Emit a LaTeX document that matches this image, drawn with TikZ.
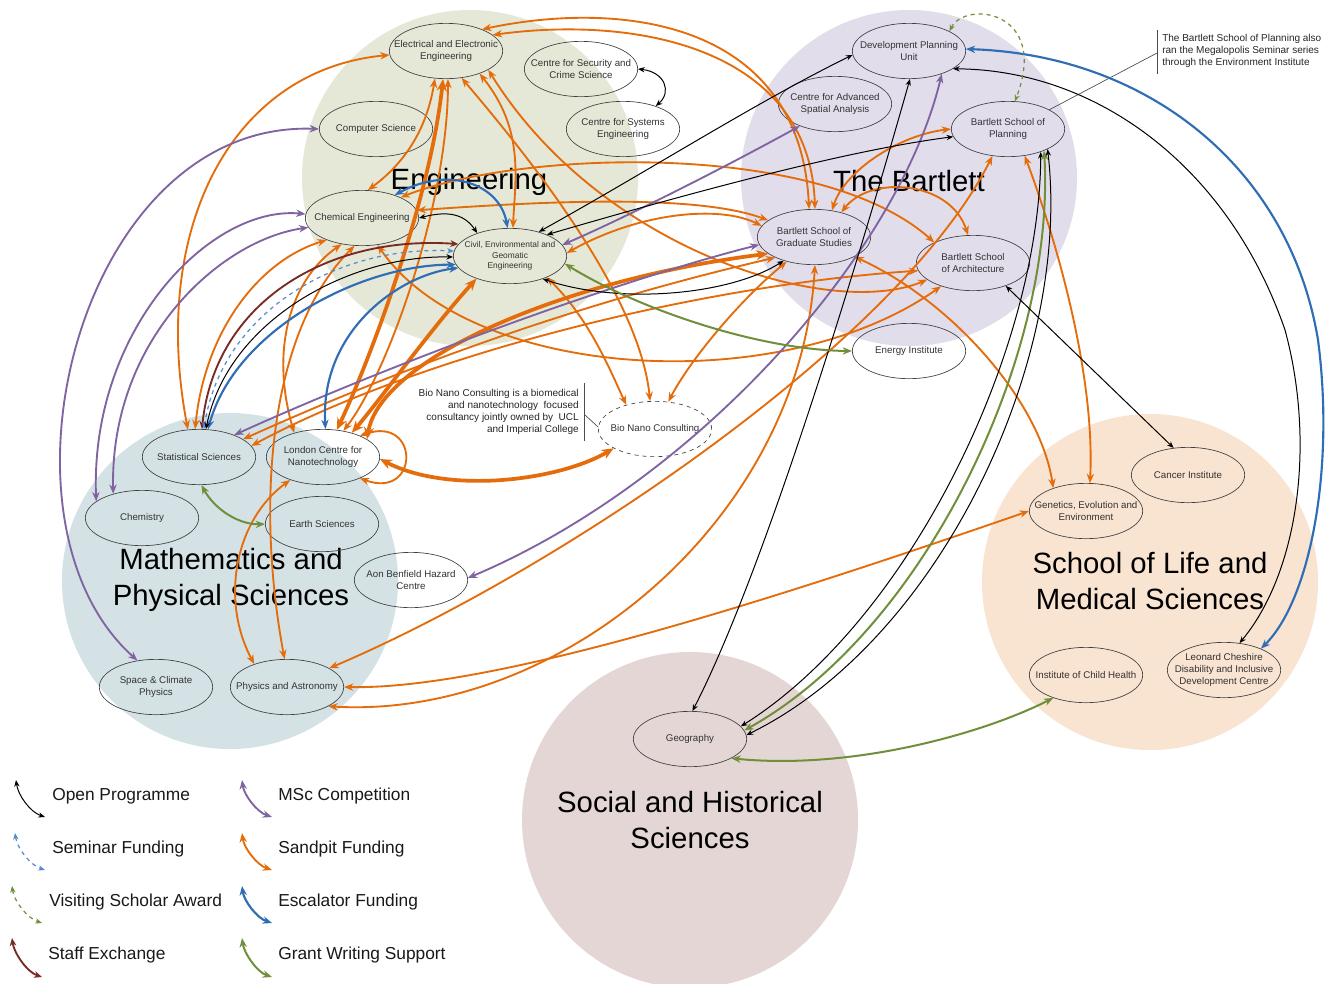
\documentclass[tikz,border=0pt]{standalone}
\usepackage{fontspec}
\setmainfont{Liberation Sans}
\usetikzlibrary{shapes.geometric,arrows.meta,calc}
\definecolor{engc}{HTML}{E5E8D7}
\definecolor{bartc}{HTML}{E2DDEB}
\definecolor{mpsc}{HTML}{D4E2E6}
\definecolor{lifec}{HTML}{F9E3D1}
\definecolor{socc}{HTML}{E5D6D6}
\definecolor{sandc}{HTML}{E46C0A}
\definecolor{mscc}{HTML}{8064A2}
\definecolor{escc}{HTML}{2F6DB5}
\definecolor{semc}{HTML}{4F8BD0}
\definecolor{grantc}{HTML}{6F8F3A}
\definecolor{staffc}{HTML}{7A2A24}
\definecolor{visitc}{HTML}{6F8F3A}
\tikzset{
 grp/.style={circle,inner sep=0pt,minimum size=252pt,draw=none},
 biglabel/.style={font=\fontsize{22}{27}\selectfont,align=center,text=black},
 unit/.style={ellipse,draw=black!75,line width=0.5pt,minimum width=85pt,minimum height=41.5pt,inner sep=0pt},
 utext/.style={inner sep=0pt,align=center,font=\fontsize{7.3}{9}\selectfont,text=black!80},
 usmall/.style={inner sep=0pt,align=center,font=\fontsize{6.3}{8}\selectfont,text=black!80},
 sand/.style={draw=sandc,line width=1.4pt,arrows={Stealth[length=7pt,width=5.5pt]-Stealth[length=7pt,width=5.5pt]}},
 sandthick/.style={draw=sandc,line width=2.8pt,arrows={Stealth[length=9pt,width=7.5pt]-Stealth[length=9pt,width=7.5pt]}},
 openp/.style={draw=black,line width=0.75pt,arrows={Stealth[length=5pt,width=4pt]-Stealth[length=5pt,width=4pt]}},
 msc/.style={draw=mscc,line width=1.4pt,arrows={Stealth[length=7pt,width=5.5pt]-Stealth[length=7pt,width=5.5pt]}},
 esc/.style={draw=escc,line width=1.6pt,arrows={Stealth[length=7pt,width=5.5pt]-Stealth[length=7pt,width=5.5pt]}},
 grant/.style={draw=grantc,line width=1.5pt,arrows={Stealth[length=7pt,width=5.5pt]-Stealth[length=7pt,width=5.5pt]}},
 staff/.style={draw=staffc,line width=1.4pt,arrows={Stealth[length=6pt,width=5pt]-Stealth[length=6pt,width=5pt]}},
 seminar/.style={draw=semc,line width=0.9pt,dashed,arrows={Stealth[length=5pt,width=4pt]-Stealth[length=5pt,width=4pt]}},
 visit/.style={draw=visitc,line width=0.9pt,dashed,arrows={Stealth[length=5pt,width=4pt]-Stealth[length=5pt,width=4pt]}},
 annot/.style={font=\fontsize{7.5}{9}\selectfont,text=black!85,inner sep=0pt},
 legtext/.style={font=\fontsize{13}{15}\selectfont,anchor=west,text=black!90,inner sep=0pt},
 bar/.style={draw=black!70,line width=0.5pt}
}
\begin{document}
\begin{tikzpicture}[x=0.75pt,y=-0.75pt]
\useasboundingbox (0,0) rectangle (1330,983);
\clip (0,0) rectangle (1330,983);
\fill[white] (0,0) rectangle (1330,983);
% group circles
\node[grp,fill=engc] (gEng) at (470,178) {};
\node[grp,fill=bartc] (gBart) at (909,178) {};
\node[grp,fill=mpsc] (gMps) at (230,581) {};
\node[grp,fill=lifec] (gLife) at (1150,582) {};
\node[grp,fill=socc] (gSoc) at (690,820) {};
% big labels
\node[biglabel] (lEng) at (469,182) {Engineering};
\node[biglabel] (lBart) at (909,181) {The Bartlett};
\node[biglabel] (lMps) at (231,580) {Mathematics and\\Physical Sciences};
\node[biglabel] (lLife) at (1150,581) {School of Life and\\Medical Sciences};
\node[biglabel] (lSoc) at (690,820) {Social and Historical\\Sciences};
% units
\node[unit,label={[utext]center:{Electrical and Electronic\\Engineering}}] (eee) at (446,51) {};
\node[unit,label={[utext]center:{Centre for Security and\\Crime Science}}] (csc) at (581,69) {};
\node[unit,label={[utext]center:{Centre for Systems\\Engineering}}] (cse) at (623,129) {};
\node[unit,label={[utext]center:{Computer Science}}] (cs) at (376,129) {};
\node[unit,label={[utext]center:{Chemical Engineering}}] (che) at (362,218) {};
\node[unit,label={[usmall]center:{Civil, Environmental and\\Geomatic\\Engineering}}] (civ) at (510,256) {};
\node[unit,label={[utext]center:{Development Planning\\Unit}}] (dpu) at (909,51) {};
\node[unit,label={[utext]center:{Centre for Advanced\\Spatial Analysis}}] (casa) at (835,104) {};
\node[unit,label={[utext]center:{Bartlett School of\\Planning}}] (bsp) at (1008,129) {};
\node[unit,label={[utext]center:{Bartlett School of\\Graduate Studies}}] (bsgs) at (814,237) {};
\node[unit,label={[utext]center:{Bartlett School\\of Architecture}}] (bsa) at (973,263) {};
\node[unit,label={[utext]center:{Energy Institute}}] (ei) at (909,351) {};
\node[unit,dashed,label={[utext]center:{Bio Nano Consulting}}] (bnc) at (655,429) {};
\node[unit,label={[utext]center:{Statistical Sciences}}] (stat) at (199,457) {};
\node[unit,label={[utext]center:{London Centre for\\Nanotechnology}}] (lcn) at (323,457) {};
\node[unit,label={[utext]center:{Chemistry}}] (chem) at (142,518) {};
\node[unit,label={[utext]center:{Earth Sciences}}] (earth) at (322,524) {};
\node[unit,label={[utext]center:{Aon Benfield Hazard\\Centre}}] (aon) at (411,580) {};
\node[unit,label={[utext]center:{Space \& Climate\\Physics}}] (scp) at (156,687) {};
\node[unit,label={[utext]center:{Physics and Astronomy}}] (pa) at (287,687) {};
\node[unit,label={[utext]center:{Cancer Institute}}] (ci) at (1188,475) {};
\node[unit,label={[utext]center:{Genetics, Evolution and\\Environment}}] (gee) at (1086,511) {};
\node[unit,label={[utext]center:{Institute of Child Health}}] (ich) at (1086,675) {};
\node[unit,label={[utext]center:{Leonard Cheshire\\Disability and Inclusive\\Development Centre}}] (lc) at (1224,670) {};
\node[unit,label={[utext]center:{Geography}}] (geo) at (690,739) {};
% annotations
\node[annot,anchor=east,align=right] (bncnote) at (579,412) {Bio Nano Consulting is a biomedical\\and nanotechnology\ \ focused\\consultancy jointly owned by\ \ UCL\\and Imperial College};
\draw[bar] (584,383) -- (584,441);
\coordinate (bncbar) at (585,415);
\draw[bar] (bncbar) -- (bnc.178);
\node[annot,anchor=west,align=left] (bspnote) at (1162,51) {The Bartlett School of Planning also\\ran the Megalopolis Seminar series\\through the Environment Institute};
\draw[bar] (1157,30) -- (1157,74);
\coordinate (bspbar) at (1157,53);
\draw[bar] (bsp.25) -- (bspbar);
% ---------- Sandpit Funding ----------
\draw[sand] (eee.31) .. controls (620,0) and (800,20) .. (bsgs.100);
\draw[sand] (eee.19) .. controls (640,15) and (810,50) .. (bsgs.88);
\draw[sand] (eee.184) .. controls (230,70) and (150,230) .. (stat.112);
\draw[sandthick] (eee.264) .. controls (430,200) and (370,360) .. (lcn.63);
\draw[sand] (eee.274) .. controls (448,200) and (390,370) .. (lcn.52);
\draw[sand] (eee.326) .. controls (525,130) and (515,180) .. (civ.84);
\draw[sand] (eee.300) .. controls (540,170) and (640,300) .. (bnc.100);
\draw[sand] (eee.336) .. controls (600,250) and (830,320) .. (bsa.200);
\draw[sand] (eee.248) .. controls (425,140) and (395,170) .. (che.78);
\draw[sand] (che.28) .. controls (520,150) and (820,140) .. (bsa.152);
\draw[sand] (che.8) .. controls (560,200) and (700,195) .. (bsgs.160);
\draw[sand] (che.300) .. controls (470,380) and (780,400) .. (bsa.216);
\draw[sand] (stat.98) .. controls (205,330) and (260,260) .. (che.212);
\draw[sand] (lcn.140) .. controls (270,350) and (290,280) .. (che.232);
\draw[sand] (pa.95) .. controls (255,500) and (270,330) .. (che.255);
\draw[sand] (pa.145) .. controls (220,600) and (235,520) .. (lcn.215);
\draw[sandthick] (civ.214) .. controls (430,330) and (380,400) .. (lcn.40);
\draw[sandthick] (bsgs.200) .. controls (560,280) and (380,360) .. (lcn.22);
\draw[sand] (bsgs.208) .. controls (592,300) and (419,360) .. (stat.22);
\draw[sand] (bsa.188) .. controls (700,285) and (420,355) .. (stat.12);
\draw[sand] (civ.3) .. controls (640,212) and (720,205) .. (bsgs.168);
\draw[sand] (civ.330) .. controls (590,320) and (610,370) .. (bnc.140);
\draw[sand] (bsgs.222) .. controls (740,300) and (690,360) .. (bnc.64);
\draw[sand] (bsgs.334) .. controls (950,300) and (1040,400) .. (gee.145);
\draw[sand] (bsp.302) .. controls (1060,250) and (1095,380) .. (gee.82);
\draw[sand] (bsp.180) .. controls (900,135) and (845,170) .. (bsgs.56);
\draw[sand] (bsgs.42) .. controls (870,175) and (950,180) .. (bsa.100);
\draw[sand] (bsp.240) .. controls (900,340) and (560,570) .. (pa.24);
\draw[sand] (bsgs.272) .. controls (800,520) and (560,720) .. (pa.335);
\draw[sand] (gee.180) .. controls (800,590) and (500,690) .. (pa.0);
\draw[sand] (lcn.30) .. controls (420,415) and (420,500) .. (lcn.330);
\draw[sandthick] (lcn.358) .. controls (450,495) and (560,480) .. (bnc.205);
% ---------- MSc Competition ----------
\draw[msc] (cs.180) .. controls (80,120) and (-20,520) .. (scp.125);
\draw[msc] (che.176) .. controls (210,205) and (90,330) .. (chem.160);
\draw[msc] (che.190) .. controls (220,240) and (110,340) .. (chem.140);
\draw[msc] (stat.32) .. controls (400,360) and (620,280) .. (bsgs.188);
\draw[msc] (casa.212) .. controls (720,170) and (620,220) .. (civ.12);
\draw[msc] (dpu.325) .. controls (900,250) and (700,480) .. (aon.2);
% ---------- Escalator Funding ----------
\draw[esc] (che.35) .. controls (450,165) and (500,185) .. (civ.95);
\draw[esc] (stat.72) .. controls (235,330) and (360,265) .. (civ.189);
\draw[esc] (lcn.85) .. controls (320,330) and (400,275) .. (civ.193);
\draw[esc] (dpu.2) .. controls (1150,55) and (1290,170) .. (1318,340) .. controls (1335,470) and (1310,600) .. (lc.30);
% ---------- Staff exchange / Seminar / Open ----------
\draw[staff] (stat.84) .. controls (215,300) and (330,235) .. (civ.167);
\draw[seminar] (stat.80) .. controls (222,310) and (340,245) .. (civ.175);
\draw[openp] (stat.76) .. controls (228,320) and (350,255) .. (civ.181);
\draw[openp] (che.0) .. controls (450,210) and (465,215) .. (civ.145);
\draw[openp] (civ.40) .. controls (650,170) and (760,100) .. (dpu.184);
\draw[openp] (civ.30) .. controls (700,190) and (850,150) .. (bsp.188);
\draw[openp] (civ.325) .. controls (620,305) and (730,295) .. (bsgs.218);
\draw[openp] (csc.0) .. controls (665,72) and (672,92) .. (cse.35);
\draw[openp] (dpu.272) .. controls (870,220) and (770,560) .. (geo.85);
\draw[openp] (dpu.338) .. controls (1100,70) and (1230,170) .. (1285,330) .. controls (1315,440) and (1300,570) .. (lc.60);
\draw[openp] (bsp.325) .. controls (1040,350) and (910,620) .. (geo.14);
\draw[grant] (bsp.329) .. controls (1056,355) and (925,630) .. (geo.9);
\draw[openp] (bsp.333) .. controls (1072,360) and (940,640) .. (geo.4);
\draw[openp] (bsa.325) -- (ci.118);
% ---------- Grant Writing / Visiting ----------
\draw[grant] (civ.352) .. controls (640,310) and (760,350) .. (ei.180);
\draw[grant] (stat.275) .. controls (215,510) and (240,525) .. (earth.180);
\draw[grant] (geo.335) .. controls (850,770) and (980,735) .. (ich.215);
\draw[visit] (dpu.26) .. controls (965,0) and (1050,10) .. (bsp.76);
% ---------- Legend ----------
\coordinate (la1) at (16,780); \coordinate (lb1) at (45,817);
\coordinate (la2) at (15,833); \coordinate (lb2) at (45,870);
\coordinate (la3) at (12,886); \coordinate (lb3) at (42,923);
\coordinate (la4) at (12,938); \coordinate (lb4) at (42,977);
\coordinate (la5) at (242,780); \coordinate (lb5) at (272,817);
\coordinate (la6) at (242,833); \coordinate (lb6) at (272,870);
\coordinate (la7) at (242,886); \coordinate (lb7) at (272,923);
\coordinate (la8) at (242,938); \coordinate (lb8) at (272,977);
\draw[openp] (la1) .. controls ($(la1)+(2,15)$) and ($(lb1)+(-15,-5)$) .. (lb1);
\draw[seminar] (la2) .. controls ($(la2)+(2,15)$) and ($(lb2)+(-15,-5)$) .. (lb2);
\draw[visit] (la3) .. controls ($(la3)+(2,15)$) and ($(lb3)+(-15,-5)$) .. (lb3);
\draw[staff] (la4) .. controls ($(la4)+(2,15)$) and ($(lb4)+(-15,-5)$) .. (lb4);
\draw[msc] (la5) .. controls ($(la5)+(2,15)$) and ($(lb5)+(-15,-5)$) .. (lb5);
\draw[sand] (la6) .. controls ($(la6)+(2,15)$) and ($(lb6)+(-15,-5)$) .. (lb6);
\draw[esc] (la7) .. controls ($(la7)+(2,15)$) and ($(lb7)+(-15,-5)$) .. (lb7);
\draw[grant] (la8) .. controls ($(la8)+(2,15)$) and ($(lb8)+(-15,-5)$) .. (lb8);
\node[legtext] (t1) at (52,796) {Open Programme};
\node[legtext] (t2) at (52,849) {Seminar Funding};
\node[legtext] (t3) at (49,902) {Visiting Scholar Award};
\node[legtext] (t4) at (48,955) {Staff Exchange};
\node[legtext] (t5) at (278,796) {MSc Competition};
\node[legtext] (t6) at (278,849) {Sandpit Funding};
\node[legtext] (t7) at (278,902) {Escalator Funding};
\node[legtext] (t8) at (278,955) {Grant Writing Support};
\end{tikzpicture}
\end{document}
